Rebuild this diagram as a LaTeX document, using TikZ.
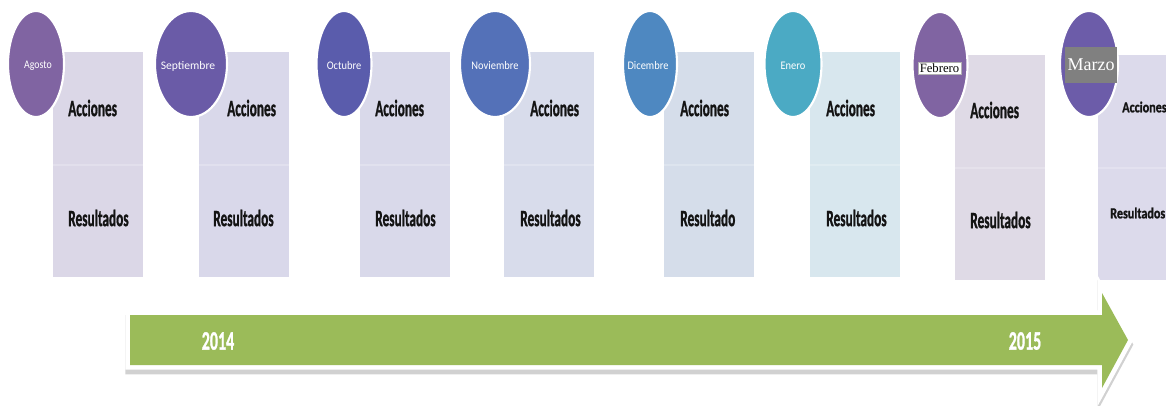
\documentclass[tikz,border=0pt]{standalone}
\usepackage{fontspec}
\setmainfont{Carlito}[BoldFeatures={FakeBold=1.3}]
\newfontfamily\serifmes{Liberation Serif}
\usetikzlibrary{shapes.geometric}
\definecolor{bA}{HTML}{DBD7E7}
\definecolor{bS}{HTML}{D9D8EA}
\definecolor{bO}{HTML}{D9D9EA}
\definecolor{bN}{HTML}{D8DCEB}
\definecolor{bD}{HTML}{D5DDEA}
\definecolor{bE}{HTML}{D8E7EE}
\definecolor{bF}{HTML}{DFDAE6}
\definecolor{bM}{HTML}{DCDAEB}
\definecolor{cA}{HTML}{8064A2}
\definecolor{cS}{HTML}{6A5BA7}
\definecolor{cO}{HTML}{5A5CAC}
\definecolor{cN}{HTML}{5471B8}
\definecolor{cD}{HTML}{4E88C1}
\definecolor{cE}{HTML}{4BAAC4}
\definecolor{cF}{HTML}{8064A2}
\definecolor{cM}{HTML}{6C5CA9}
\definecolor{arrowgreen}{HTML}{9BBB59}
\definecolor{txtdark}{HTML}{141414}
\tikzset{
  boxa/.style={anchor=north west, minimum width=67.5pt, minimum height=84.75pt, inner sep=0pt, outer sep=0pt},
  boxr/.style={anchor=north west, minimum width=67.5pt, minimum height=84pt, inner sep=0pt, outer sep=0pt},
  divline/.style={line width=0.8pt},
  mes/.style={ellipse, draw=white, line width=1.6pt, minimum height=79.5pt, inner sep=0pt},
  meslab/.style={text=white, font=\fontsize{8.7}{10}\selectfont, inner sep=0pt},
  txt/.style={anchor=west, inner sep=0pt, text=txtdark, font=\bfseries\fontsize{17.5}{20}\selectfont},
  txtsmall/.style={anchor=west, inner sep=0pt, text=txtdark, font=\bfseries\fontsize{11.5}{13}\selectfont},
  year/.style={text=white, inner sep=0pt, font=\bfseries\fontsize{20}{24}\selectfont},
}
\newcommand\sq[2]{\scalebox{#1}[1]{#2}}
\newcommand\mesrect[4]{%
  \node[boxa, fill=#4] (#1a) at (#2,#3) {};
  \node[boxr, fill=#4] (#1r) at (#1a.south west) {};
  \draw[divline, draw=#4!80!white] (#1a.south west) -- (#1a.south east);
}
\begin{document}
\begin{tikzpicture}[x=0.75pt,y=-0.75pt]
\useasboundingbox (0,0) rectangle (1166,406);
\clip (0,0) rectangle (1166,406);

% rectangles
\mesrect{ag}{53}{52}{bA}
\mesrect{se}{199}{52}{bS}
\mesrect{oc}{360}{52}{bO}
\mesrect{no}{504}{52}{bN}
\mesrect{di}{664}{52}{bD}
\mesrect{en}{810}{52}{bE}
\mesrect{fe}{955}{55}{bF}
\mesrect{ma}{1098}{55}{bM}

% texts in rectangles
\node[txt] (agA) at (68,108) {\sq{0.57}{Acciones}};
\node[txt] (agR) at (68,218) {\sq{0.57}{Resultados}};
\node[txt] (seA) at (227,108) {\sq{0.57}{Acciones}};
\node[txt] (seR) at (213,218) {\sq{0.57}{Resultados}};
\node[txt] (ocA) at (375,108) {\sq{0.57}{Acciones}};
\node[txt] (ocR) at (375,218) {\sq{0.57}{Resultados}};
\node[txt] (noA) at (530,108) {\sq{0.57}{Acciones}};
\node[txt] (noR) at (520,218) {\sq{0.57}{Resultados}};
\node[txt] (diA) at (680,108) {\sq{0.57}{Acciones}};
\node[txt] (diR) at (680,218) {\sq{0.57}{Resultado}};
\node[txt] (enA) at (826,108) {\sq{0.57}{Acciones}};
\node[txt] (enR) at (826,218) {\sq{0.57}{Resultados}};
\node[txt] (feA) at (970,110) {\sq{0.57}{Acciones}};
\node[txt] (feR) at (970,220) {\sq{0.57}{Resultados}};
\node[txtsmall] (maA) at (1122,107) {\sq{0.79}{Acciones}};
\node[txtsmall] (maR) at (1110,213) {\sq{0.79}{Resultados}};

% month ellipses
\node[mes, fill=cA, minimum width=42pt]    (agC) at (36,64) {};
\node[mes, fill=cS, minimum width=54pt]    (seC) at (191,64) {};
\node[mes, fill=cO, minimum width=41.25pt] (ocC) at (344,64) {};
\node[mes, fill=cN, minimum width=52.5pt]  (noC) at (495,64) {};
\node[mes, fill=cD, minimum width=40.5pt]  (diC) at (650,64) {};
\node[mes, fill=cE, minimum width=42.75pt] (enC) at (793,64) {};
\node[mes, fill=cF, minimum width=41.25pt] (feC) at (940,65) {};
\node[mes, fill=cM, minimum width=43.5pt]  (maC) at (1089,64) {};

% month labels
\node[meslab] (agL) at (38,66) {\sq{0.85}{Agosto}};
\node[meslab] (seL) at (188,66) {\sq{1}{Septiembre}};
\node[meslab] (ocL) at (344,66) {\sq{0.9}{Octubre}};
\node[meslab] (noL) at (495,66) {\sq{0.9}{Noviembre}};
\node[meslab] (diL) at (648,66) {\sq{0.9}{Dicembre}};
\node[meslab] (enL) at (793,66) {\sq{0.9}{Enero}};
\node[fill=white, draw=black!30, line width=0.3pt, inner sep=1.2pt, text=black,
      font=\serifmes\fontsize{9.5}{11}\selectfont] (feL) at (939.5,68.5) {Febrero};
\node[fill=black!50, inner sep=0pt, minimum width=39pt, minimum height=27pt, text=white,
      font=\serifmes\fontsize{13.5}{15}\selectfont] (maL) at (1091,65) {Marzo};

% timeline arrow
\coordinate (a1) at (130,315);
\coordinate (a2) at (1102,315);
\coordinate (a3) at (1102,293);
\coordinate (a4) at (1128,340);
\coordinate (a5) at (1102,388);
\coordinate (a6) at (1102,365);
\coordinate (a7) at (130,365);
\path[fill=black!18, draw=black!18, line width=7pt, line join=miter]
  ([yshift=-3.5pt]a1) -- ([yshift=-3.5pt]a2) -- ([yshift=-3.5pt]a3) -- ([yshift=-3.5pt]a4)
  -- ([yshift=-3.5pt]a5) -- ([yshift=-3.5pt]a6) -- ([yshift=-3.5pt]a7) -- cycle;
\path[fill=white, draw=white, line width=7pt, line join=miter]
  (a1) -- (a2) -- (a3) -- (a4) -- (a5) -- (a6) -- (a7) -- cycle;
\path[fill=arrowgreen]
  (a1) -- (a2) -- (a3) -- (a4) -- (a5) -- (a6) -- (a7) -- cycle;

\node[year] (y14) at (218,341) {\sq{0.6}{2014}};
\node[year] (y15) at (1025,341) {\sq{0.6}{2015}};
\end{tikzpicture}
\end{document}
